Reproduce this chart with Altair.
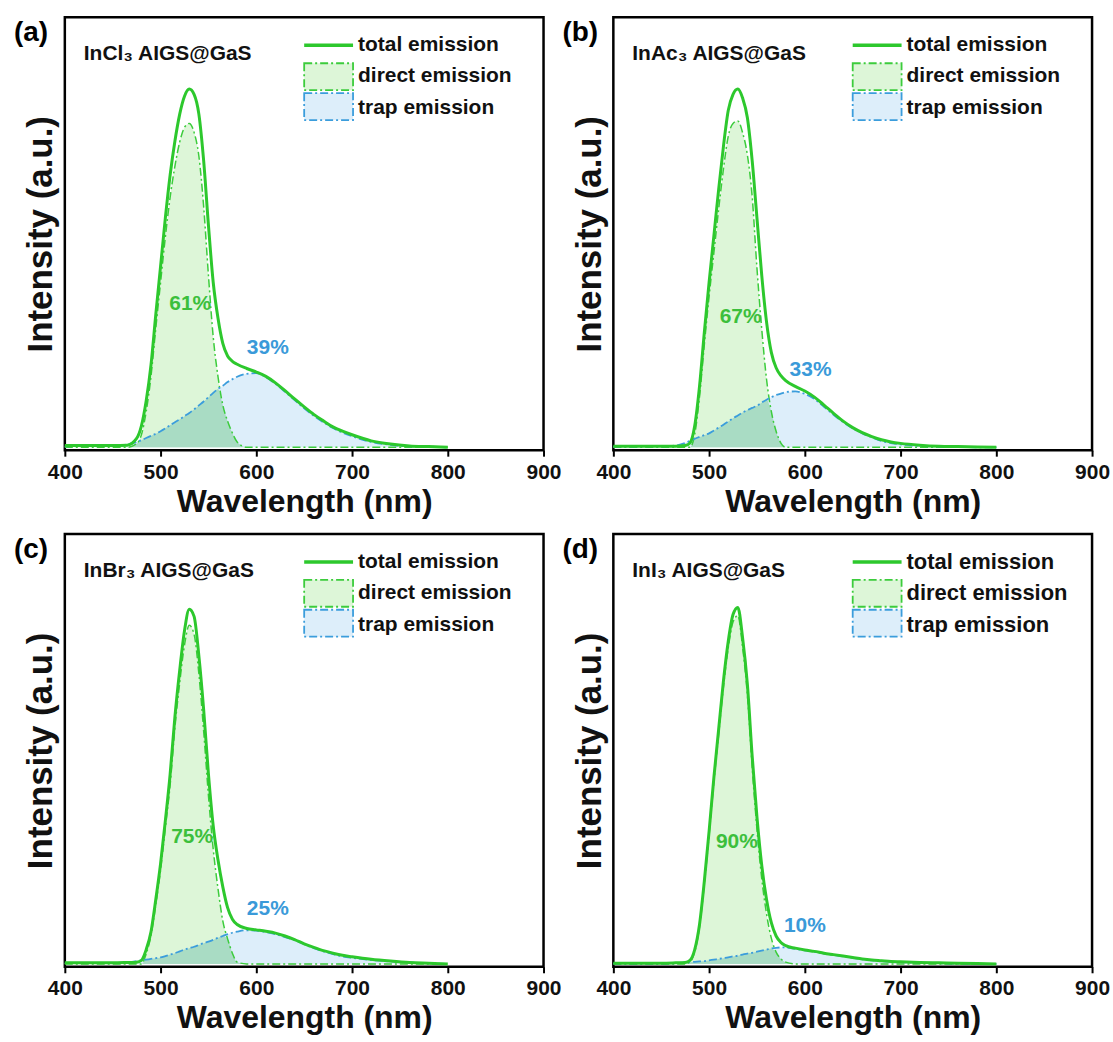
import altair as alt
import pandas as pd

# ---------------- data ----------------
WAVELENGTH = [400, 450, 465, 475, 480, 485, 490, 495, 500, 505, 510, 515, 520, 525,
              530, 535, 540, 545, 550, 555, 560, 565, 570, 575, 580, 590, 600, 610,
              620, 630, 640, 650, 660, 670, 680, 690, 700, 720, 740, 760, 780, 800]

A_TOTAL = [0.005, 0.005, 0.006, 0.025, 0.06, 0.13, 0.23, 0.37, 0.505, 0.64, 0.76, 0.855, 0.93, 0.98,
           1.0, 0.985, 0.93, 0.8, 0.62, 0.46, 0.36, 0.29, 0.255, 0.24, 0.232, 0.22, 0.21, 0.198,
           0.18, 0.158, 0.135, 0.113, 0.092, 0.074, 0.057, 0.045, 0.035, 0.018, 0.009, 0.004, 0.002, 0.0]
A_DIRECT = [0.0, 0.0, 0.0, 0.01, 0.035, 0.1, 0.198, 0.332, 0.46, 0.587, 0.698, 0.785, 0.852, 0.893,
            0.904, 0.879, 0.813, 0.672, 0.48, 0.308, 0.197, 0.118, 0.073, 0.04, 0.015, 0.0, 0.0, 0.0,
            0.0, 0.0, 0.0, 0.0, 0.0, 0.0, 0.0, 0.0, 0.0, 0.0, 0.0, 0.0, 0.0, 0.0]
A_TRAP = [0.003, 0.004, 0.008, 0.015, 0.02, 0.026, 0.032, 0.038, 0.045, 0.053, 0.062, 0.07, 0.078, 0.087,
          0.096, 0.106, 0.117, 0.128, 0.14, 0.152, 0.163, 0.172, 0.182, 0.19, 0.197, 0.205, 0.207, 0.196,
          0.177, 0.155, 0.132, 0.109, 0.088, 0.07, 0.054, 0.041, 0.031, 0.015, 0.007, 0.003, 0.002, 0.0]

B_TOTAL = [0.003, 0.003, 0.003, 0.005, 0.012, 0.06, 0.17, 0.32, 0.46, 0.59, 0.72, 0.84, 0.94, 0.985,
           1.0, 0.975, 0.92, 0.8, 0.64, 0.48, 0.35, 0.265, 0.222, 0.2, 0.186, 0.17, 0.157, 0.14,
           0.118, 0.095, 0.073, 0.055, 0.041, 0.03, 0.021, 0.015, 0.011, 0.006, 0.003, 0.002, 0.001, 0.0]
B_DIRECT = [0.0, 0.0, 0.0, 0.0, 0.0, 0.036, 0.141, 0.286, 0.421, 0.543, 0.665, 0.777, 0.868, 0.904,
            0.911, 0.878, 0.816, 0.7, 0.5, 0.33, 0.19, 0.1, 0.045, 0.012, 0.0, 0.0, 0.0, 0.0,
            0.0, 0.0, 0.0, 0.0, 0.0, 0.0, 0.0, 0.0, 0.0, 0.0, 0.0, 0.0, 0.0, 0.0]
B_TRAP = [0.002, 0.003, 0.005, 0.012, 0.018, 0.024, 0.029, 0.034, 0.039, 0.047, 0.055, 0.063, 0.072, 0.081,
          0.089, 0.097, 0.104, 0.11, 0.116, 0.125, 0.133, 0.14, 0.146, 0.15, 0.154, 0.156, 0.149, 0.135,
          0.113, 0.091, 0.07, 0.053, 0.039, 0.028, 0.018, 0.012, 0.008, 0.004, 0.002, 0.001, 0.0, 0.0]

C_TOTAL = [0.003, 0.003, 0.004, 0.005, 0.01, 0.04, 0.09, 0.18, 0.28, 0.4, 0.53, 0.69, 0.82, 0.93,
           0.99, 0.97, 0.86, 0.71, 0.53, 0.385, 0.29, 0.215, 0.157, 0.125, 0.11, 0.099, 0.095, 0.091,
           0.086, 0.078, 0.068, 0.056, 0.046, 0.037, 0.03, 0.024, 0.02, 0.013, 0.008, 0.004, 0.002, 0.0]
C_DIRECT = [0.0, 0.0, 0.0, 0.0, 0.0, 0.028, 0.08, 0.165, 0.262, 0.38, 0.5, 0.66, 0.785, 0.89,
            0.945, 0.92, 0.81, 0.65, 0.47, 0.32, 0.21, 0.12, 0.07, 0.03, 0.005, 0.0, 0.0, 0.0,
            0.0, 0.0, 0.0, 0.0, 0.0, 0.0, 0.0, 0.0, 0.0, 0.0, 0.0, 0.0, 0.0, 0.0]
C_TRAP = [0.002, 0.002, 0.004, 0.008, 0.01, 0.012, 0.014, 0.016, 0.018, 0.022, 0.026, 0.03, 0.035, 0.04,
          0.044, 0.048, 0.053, 0.058, 0.062, 0.067, 0.073, 0.078, 0.083, 0.087, 0.09, 0.094, 0.093, 0.089,
          0.083, 0.075, 0.066, 0.055, 0.044, 0.035, 0.027, 0.021, 0.017, 0.011, 0.007, 0.004, 0.002, 0.0]

D_TOTAL = [0.002, 0.002, 0.003, 0.004, 0.01, 0.04, 0.11, 0.23, 0.37, 0.52, 0.655, 0.79, 0.9, 0.975,
           0.995, 0.91, 0.78, 0.58, 0.41, 0.275, 0.18, 0.115, 0.078, 0.06, 0.051, 0.044, 0.039, 0.035,
           0.03, 0.026, 0.022, 0.018, 0.014, 0.011, 0.009, 0.007, 0.006, 0.004, 0.003, 0.002, 0.001, 0.0]
D_DIRECT = [0.0, 0.0, 0.0, 0.0, 0.005, 0.034, 0.103, 0.222, 0.36, 0.508, 0.641, 0.774, 0.882, 0.954,
            0.972, 0.884, 0.751, 0.549, 0.376, 0.238, 0.14, 0.072, 0.033, 0.014, 0.005, 0.0, 0.0, 0.0,
            0.0, 0.0, 0.0, 0.0, 0.0, 0.0, 0.0, 0.0, 0.0, 0.0, 0.0, 0.0, 0.0, 0.0]
D_TRAP = [0.001, 0.001, 0.002, 0.004, 0.005, 0.006, 0.007, 0.008, 0.01, 0.012, 0.014, 0.016, 0.018, 0.021,
          0.023, 0.026, 0.029, 0.031, 0.034, 0.037, 0.04, 0.043, 0.045, 0.046, 0.046, 0.042, 0.038, 0.034,
          0.029, 0.025, 0.021, 0.017, 0.013, 0.01, 0.008, 0.006, 0.005, 0.003, 0.002, 0.001, 0.0, 0.0]

PANEL_LETTERS = ["(a)", "(b)", "(c)", "(d)"]
SAMPLES = ["InCl\u2083 AIGS@GaS", "InAc\u2083 AIGS@GaS", "InBr\u2083 AIGS@GaS", "InI\u2083 AIGS@GaS"]
DIRECT_PCT = ["61%", "67%", "75%", "90%"]
DIRECT_PCT_WL = [531, 533, 533, 529]
DIRECT_PCT_I = [0.40, 0.363, 0.355, 0.341]
TRAP_PCT = ["39%", "33%", "25%", "10%"]
TRAP_PCT_WL = [612, 606, 612, 600]
TRAP_PCT_I = [0.278, 0.215, 0.152, 0.106]
X_TICKS = [400, 500, 600, 700, 800, 900]
LEGEND_LABELS = ["total emission", "direct emission", "trap emission"]

# ---------------- styling ----------------
FONT = "Liberation Sans"
GREEN = "#2dc82d"
GREEN_DASH = "#3ccc3c"
BLUE = "#3b9ddc"
GREEN_FILL = "#ddf6d8"
BLUE_FILL = "#ddeefa"
OVERLAP_FILL = "#a9dcc4"
PCT_GREEN = "#3cbf3c"
PCT_BLUE = "#3a9ad9"
DASHDOT = [8, 3, 2, 3]

PW, PH = 480, 434

x_scale = alt.Scale(domain=[400, 900], nice=False, zero=False)
y_scale = alt.Scale(domain=[-0.008, 1.2], nice=False, zero=False)
x_axis = alt.Axis(values=X_TICKS, title="Wavelength (nm)", grid=False, domain=False,
                  labelFlush=False, format="d")
y_axis = alt.Axis(labels=False, ticks=False, domain=False, grid=False, title="Intensity (a.u.)")


def one_row():
    return alt.Chart(pd.DataFrame({"k": [0]}))


def panel(i, total, direct, trap):
    df = pd.DataFrame({"wl": WAVELENGTH, "total": total, "direct": direct, "trap": trap})
    base = alt.Chart(df)
    X = alt.X("wl:Q", scale=x_scale, axis=x_axis)

    def Y(f):
        return alt.Y(f + ":Q", scale=y_scale, axis=y_axis)

    direct_fill = base.mark_area(color=GREEN_FILL, interpolate="monotone").encode(x=X, y=Y("direct"))
    trap_fill = base.mark_area(color=BLUE_FILL, interpolate="monotone").encode(x=X, y=Y("trap"))
    overlap = base.transform_calculate(ov="min(datum.direct, datum.trap)").mark_area(
        color=OVERLAP_FILL, interpolate="monotone").encode(x=X, y=Y("ov"))
    direct_line = base.mark_line(color=GREEN_DASH, strokeDash=DASHDOT, strokeWidth=1.5,
                                 interpolate="monotone").encode(x=X, y=Y("direct"))
    trap_line = base.mark_line(color=BLUE, strokeDash=DASHDOT, strokeWidth=1.8,
                               interpolate="monotone").encode(x=X, y=Y("trap"))
    total_line = base.mark_line(color=GREEN, strokeWidth=3,
                                interpolate="monotone").encode(x=X, y=Y("total"))

    pct = pd.DataFrame({"wl": [DIRECT_PCT_WL[i], TRAP_PCT_WL[i]],
                        "val": [DIRECT_PCT_I[i], TRAP_PCT_I[i]],
                        "txt": [DIRECT_PCT[i], TRAP_PCT[i]],
                        "col": [PCT_GREEN, PCT_BLUE]})
    pct_text = alt.Chart(pct).mark_text(font=FONT, fontSize=21, fontWeight="bold",
                                        align="center", baseline="middle").encode(
        x=X, y=Y("val"), text="txt:N", color=alt.Color("col:N", scale=None))

    letter = one_row().mark_text(text=PANEL_LETTERS[i], font=FONT, fontSize=28, fontWeight="bold",
                                 align="left", baseline="middle", color="black").encode(
        x=alt.value(-51), y=alt.value(16))
    sample = one_row().mark_text(text=SAMPLES[i], font=FONT, fontSize=21, fontWeight="bold",
                                 align="left", baseline="middle", color="#111111").encode(
        x=alt.value(19), y=alt.value(37))

    leg_fs = 22 if i == 3 else 21
    leg_line = one_row().mark_rule(color=GREEN, strokeWidth=3.5).encode(
        x=alt.value(240), x2=alt.value(289), y=alt.value(28))
    leg_rect1 = one_row().mark_rect(fill=GREEN_FILL, stroke=GREEN_DASH, strokeDash=DASHDOT,
                                    strokeWidth=1.8).encode(
        x=alt.value(240), x2=alt.value(289), y=alt.value(46), y2=alt.value(73))
    leg_rect2 = one_row().mark_rect(fill=BLUE_FILL, stroke=BLUE, strokeDash=DASHDOT,
                                    strokeWidth=1.8).encode(
        x=alt.value(240), x2=alt.value(289), y=alt.value(76), y2=alt.value(103))
    leg_texts = []
    for lab, yy in zip(LEGEND_LABELS, [28, 59, 91]):
        leg_texts.append(one_row().mark_text(text=lab, font=FONT, fontSize=leg_fs, fontWeight="bold",
                                             align="left", baseline="middle", color="#111111").encode(
            x=alt.value(294), y=alt.value(yy)))

    return alt.layer(direct_fill, trap_fill, overlap, direct_line, trap_line, total_line,
                     pct_text, letter, sample, leg_line, leg_rect1, leg_rect2, *leg_texts
                     ).properties(width=PW, height=PH)


panels = [
    panel(0, A_TOTAL, A_DIRECT, A_TRAP),
    panel(1, B_TOTAL, B_DIRECT, B_TRAP),
    panel(2, C_TOTAL, C_DIRECT, C_TRAP),
    panel(3, D_TOTAL, D_DIRECT, D_TRAP),
]

chart = alt.concat(*panels, columns=2, spacing={"row": 84, "column": 70}, bounds="flush").properties(
    padding={"left": 12, "top": 14, "right": 2, "bottom": 2},
    background="white",
).configure_view(
    stroke="black", strokeWidth=2.5
).configure_axis(
    labelFont=FONT, labelFontSize=21, labelFontWeight="bold", labelColor="#111111",
    titleFont=FONT, titleFontWeight="bold", titleColor="#111111",
    tickColor="black", tickWidth=2, tickSize=6,
).configure_axisX(
    titleFontSize=32, titlePadding=4, labelPadding=5,
).configure_axisY(
    titleFontSize=35, titlePadding=6,
)

chart.save("out.html", embed_options={"renderer": "svg", "actions": False})
